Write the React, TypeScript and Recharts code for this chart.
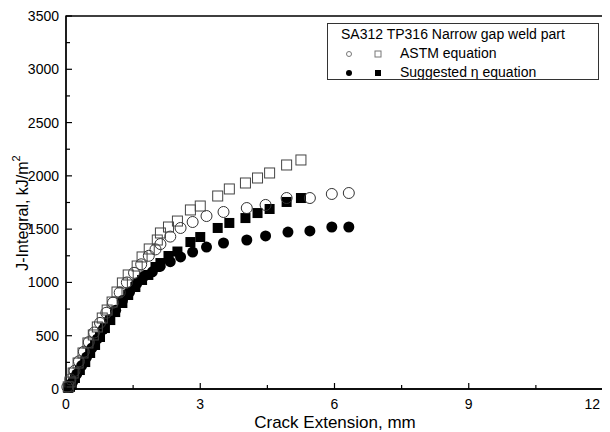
import React from 'react';
import { ScatterChart, Scatter, XAxis, YAxis, ReferenceArea } from 'recharts';

// J-integral vs crack extension
const astmCircles = [
  { x: 0.03, j: 20 }, { x: 0.1, j: 90 }, { x: 0.19, j: 170 }, { x: 0.29, j: 260 },
  { x: 0.4, j: 350 }, { x: 0.51, j: 440 }, { x: 0.63, j: 530 }, { x: 0.76, j: 620 },
  { x: 0.9, j: 715 }, { x: 1.05, j: 810 }, { x: 1.2, j: 905 }, { x: 1.36, j: 1000 },
  { x: 1.52, j: 1090 }, { x: 1.68, j: 1170 }, { x: 1.85, j: 1250 }, { x: 2.0, j: 1310 },
  { x: 2.11, j: 1360 }, { x: 2.33, j: 1430 }, { x: 2.56, j: 1511 }, { x: 2.83, j: 1567 },
  { x: 3.14, j: 1623 }, { x: 3.52, j: 1661 }, { x: 4.04, j: 1698 }, { x: 4.46, j: 1727 },
  { x: 4.93, j: 1792 }, { x: 5.45, j: 1792 }, { x: 5.94, j: 1830 }, { x: 6.32, j: 1839 },
];

const astmSquares = [
  { x: 0.05, j: 20 }, { x: 0.09, j: 66 }, { x: 0.16, j: 150 }, { x: 0.27, j: 244 },
  { x: 0.38, j: 338 }, { x: 0.49, j: 432 }, { x: 0.61, j: 507 }, { x: 0.7, j: 582 },
  { x: 0.81, j: 666 }, { x: 0.92, j: 741 }, { x: 1.03, j: 816 }, { x: 1.14, j: 910 },
  { x: 1.26, j: 995 }, { x: 1.39, j: 1070 }, { x: 1.59, j: 1154 }, { x: 1.7, j: 1239 },
  { x: 1.86, j: 1314 }, { x: 2.04, j: 1398 }, { x: 2.11, j: 1464 }, { x: 2.29, j: 1520 },
  { x: 2.49, j: 1576 }, { x: 2.78, j: 1680 }, { x: 3.0, j: 1717 }, { x: 3.39, j: 1811 },
  { x: 3.65, j: 1877 }, { x: 4.01, j: 1933 }, { x: 4.28, j: 1980 }, { x: 4.55, j: 2027 },
  { x: 4.93, j: 2102 }, { x: 5.25, j: 2149 },
];

const etaCircles = [
  { x: 0.08, j: 15 }, { x: 0.15, j: 70 }, { x: 0.24, j: 140 }, { x: 0.35, j: 220 },
  { x: 0.46, j: 300 }, { x: 0.58, j: 385 }, { x: 0.7, j: 470 }, { x: 0.83, j: 560 },
  { x: 0.97, j: 650 }, { x: 1.11, j: 740 }, { x: 1.26, j: 830 }, { x: 1.42, j: 910 },
  { x: 1.58, j: 990 }, { x: 1.75, j: 1060 }, { x: 1.93, j: 1100 }, { x: 2.1, j: 1150 },
  { x: 2.33, j: 1195 }, { x: 2.56, j: 1239 }, { x: 2.83, j: 1285 }, { x: 3.14, j: 1332 },
  { x: 3.52, j: 1370 }, { x: 4.04, j: 1398 }, { x: 4.46, j: 1436 }, { x: 4.96, j: 1473 },
  { x: 5.45, j: 1483 }, { x: 5.94, j: 1520 }, { x: 6.32, j: 1520 },
];

const etaSquares = [
  { x: 0.05, j: 10 }, { x: 0.09, j: 20 }, { x: 0.13, j: 38 }, { x: 0.2, j: 103 },
  { x: 0.31, j: 178 }, { x: 0.43, j: 253 }, { x: 0.54, j: 338 }, { x: 0.65, j: 413 },
  { x: 0.76, j: 488 }, { x: 0.87, j: 572 }, { x: 0.99, j: 647 }, { x: 1.1, j: 722 },
  { x: 1.26, j: 807 }, { x: 1.39, j: 882 }, { x: 1.55, j: 957 }, { x: 1.7, j: 1023 },
  { x: 1.84, j: 1070 }, { x: 2.0, j: 1145 }, { x: 2.11, j: 1182 }, { x: 2.29, j: 1248 },
  { x: 2.49, j: 1290 }, { x: 2.78, j: 1379 }, { x: 3.0, j: 1426 }, { x: 3.39, j: 1511 },
  { x: 3.65, j: 1558 }, { x: 4.01, j: 1604 }, { x: 4.28, j: 1651 }, { x: 4.55, j: 1689 },
  { x: 4.93, j: 1755 }, { x: 5.25, j: 1792 },
];

const xTicks = [0, 1.5, 3, 4.5, 6, 7.5, 9, 10.5, 12];
const yTicks = [0, 250, 500, 750, 1000, 1250, 1500, 1750, 2000, 2250, 2500, 2750, 3000, 3250, 3500];

const font = '"Liberation Sans", Arial, sans-serif';

const OpenCircle = (p: any) => <circle cx={p.cx} cy={p.cy} r={5.5} fill="none" stroke="#333" strokeWidth={1} />;
const OpenSquare = (p: any) => <rect x={p.cx - 5} y={p.cy - 5} width={10} height={10} fill="none" stroke="#444" strokeWidth={1} />;
const DotCircle = (p: any) => <circle cx={p.cx} cy={p.cy} r={5.5} fill="#000" />;
const DotSquare = (p: any) => <rect x={p.cx - 5} y={p.cy - 5} width={10} height={10} fill="#000" />;

const XTick = (props: any) => {
  const { x, y, payload } = props;
  const major = payload.value % 3 === 0;
  const last = payload.value === 12;
  return (
    <g>
      <line x1={x} x2={x} y1={y} y2={y - (major ? 6 : 4)} stroke="#000" strokeWidth={1.2} />
      {major && (
        <text
          x={last ? x - 3 : x}
          y={y + 20}
          textAnchor={last ? 'end' : 'middle'}
          fontSize={14}
          fontFamily={font}
          fill="#000"
        >
          {payload.value}
        </text>
      )}
    </g>
  );
};

const YTick = (props: any) => {
  const { x, y, payload } = props;
  const major = payload.value % 500 === 0;
  return (
    <g>
      <line x1={x} x2={x + (major ? 6 : 4)} y1={y} y2={y} stroke="#000" strokeWidth={1.2} />
      {major && (
        <text x={x - 7} y={y + 5} textAnchor="end" fontSize={14} fontFamily={font} fill="#000">
          {payload.value}
        </text>
      )}
    </g>
  );
};

const Legend = () => (
  <div
    style={{
      position: 'absolute', left: 319, top: 15, width: 270, height: 55,
      border: '1px solid #333', background: '#fff', fontFamily: font, fontSize: 14, color: '#000',
    }}
  >
    <svg width={270} height={55} style={{ position: 'absolute', left: 0, top: 0 }}>
      <text x={13} y={15} fontSize={14} fontFamily={font}>SA312 TP316 Narrow gap weld part</text>
      <circle cx={21} cy={30} r={2.5} fill="none" stroke="#777" />
      <rect x={47} y={27} width={6} height={6} fill="none" stroke="#777" />
      <text x={72} y={34} fontSize={14} fontFamily={font}>ASTM equation</text>
      <circle cx={21} cy={49} r={3} fill="#000" />
      <rect x={47} y={46} width={6} height={6} fill="#000" />
      <text x={72} y={53} fontSize={14} fontFamily={font}>Suggested η equation</text>
    </svg>
  </div>
);

// the page keeps its 8px body margin, so the chart covers 602x424 from (8, 8)
export default function App() {
  return (
    <div style={{ position: 'relative', width: 602, height: 424, background: '#fff' }}>
      <ScatterChart width={602} height={424} margin={{ top: 8, right: 7, bottom: 42, left: 57 }}>
        <XAxis
          type="number"
          dataKey="x"
          domain={[0, 12]}
          ticks={xTicks}
          interval={0}
          height={1}
          tickSize={0}
          tickMargin={0}
          tick={<XTick />}
          axisLine={{ stroke: '#000', strokeWidth: 1.3 }}
          label={{
            content: () => (
              <text x={327} y={420} textAnchor="middle" fontSize={17} fontFamily={font} fill="#000">
                Crack Extension, mm
              </text>
            ),
          }}
        />
        <YAxis
          type="number"
          dataKey="j"
          domain={[0, 3500]}
          ticks={yTicks}
          interval={0}
          width={1}
          tickSize={0}
          tickMargin={0}
          tick={<YTick />}
          axisLine={{ stroke: '#000', strokeWidth: 1.3 }}
          label={{
            content: () => (
              <text
                x={20}
                y={205}
                transform="rotate(-90, 20, 205)"
                textAnchor="middle"
                fontSize={16}
                fontFamily={font}
                fill="#000"
              >
                J-Integral, kJ/m<tspan dy={-8} fontSize={11}>2</tspan>
              </text>
            ),
          }}
        />
        <ReferenceArea x1={0} x2={12} y1={0} y2={3500} fill="none" stroke="#000" strokeWidth={1.3} ifOverflow="visible" />
        <Scatter data={etaCircles} shape={DotCircle} isAnimationActive={false} />
        <Scatter data={etaSquares} shape={DotSquare} isAnimationActive={false} />
        <Scatter data={astmCircles} shape={OpenCircle} isAnimationActive={false} />
        <Scatter data={astmSquares} shape={OpenSquare} isAnimationActive={false} />
      </ScatterChart>
      <Legend />
    </div>
  );
}
